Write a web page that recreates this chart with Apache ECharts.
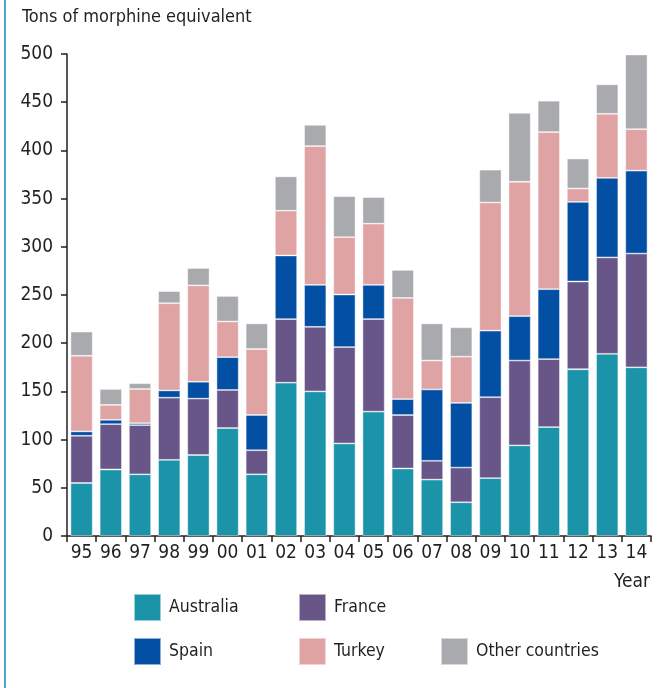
<!DOCTYPE html>
<html>
<head>
<meta charset="utf-8">
<script src="https://cdn.jsdelivr.net/npm/echarts@6/dist/echarts.min.js"></script>
<style>
  html, body { margin: 0; padding: 0; background: #fff; }
  #chart { width: 664px; height: 688px; }
</style>
</head>
<body>
<div id="chart"></div>
<script>
  // years on the x axis
  let years = ['95','96','97','98','99','00','01','02','03','04','05','06','07','08','09','10','11','12','13','14']
  // tons of morphine equivalent, per country (stacked)
  let australia = [55, 69, 64, 79, 84, 112, 64, 159, 150, 96, 129, 70, 58.5, 35, 60, 94, 113, 173, 189, 175]
  let france    = [49, 47, 51, 64.5, 58.5, 39.5, 25, 66, 67, 100, 96, 55.5, 19.5, 36, 84, 88, 70.5, 91, 100, 118]
  let spain     = [4.5, 4.5, 2, 7.5, 17.5, 34, 36.5, 66, 43.5, 54.5, 35.5, 16.5, 74, 67, 69, 46, 72.5, 82.5, 82.5, 86]
  let turkey    = [78.5, 15.5, 35.5, 90.5, 100, 37, 68.5, 46.5, 144, 59.5, 63.5, 105, 30, 48, 133, 139.5, 163, 14, 66.5, 43]
  let others    = [25, 16.5, 6, 12.5, 18, 26.5, 26.5, 35.5, 22, 42.5, 27.5, 29, 38.5, 30.5, 34, 71.5, 32.5, 31, 30.5, 77.5]
  let yTicks = [0, 50, 100, 150, 200, 250, 300, 350, 400, 450, 500]

  let names = ['Australia', 'France', 'Spain', 'Turkey', 'Other countries']
  let values = [australia, france, spain, turkey, others]
  let colors = ['#1b93a9', '#695689', '#034fa3', '#e0a3a4', '#a9aaae']

  let font = '"Liberation Sans Narrow", "DejaVu Sans Condensed", sans-serif'
  let ink = '#231f20'

  // where each legend entry sits
  let legendPos = [
    {left: 133, top: 593},
    {left: 298, top: 593},
    {left: 133, top: 637},
    {left: 298, top: 637},
    {left: 440, top: 637}
  ]

  let series = []
  let legends = []
  for (let i = 0; i < names.length; i++) {
    series.push({
      name: names[i],
      type: 'bar',
      stack: 'total',
      barCategoryGap: '24%',
      data: values[i],
      itemStyle: {color: colors[i], borderColor: 'rgba(255,255,255,0.55)', borderWidth: 0.8}
    })
    legends.push({
      data: [names[i]],
      left: legendPos[i].left,
      top: legendPos[i].top,
      padding: 0,
      itemWidth: 27,
      itemHeight: 27,
      icon: 'rect',
      selectedMode: false,
      textStyle: {fontFamily: font, fontSize: 17.5, color: ink, padding: [0, 0, 0, 3]}
    })
  }

  let myChart = echarts.init(document.getElementById('chart'))
  let option = {
    animation: false,
    backgroundColor: '#fff',
    grid: {left: 67, right: 13, top: 54, bottom: 152},
    legend: legends,
    xAxis: {
      type: 'category',
      data: years,
      axisLine: {lineStyle: {color: ink, width: 1.5}},
      axisTick: {show: true, alignWithLabel: false, length: 6, lineStyle: {color: ink, width: 1.5}},
      axisLabel: {fontFamily: font, fontSize: 19, color: ink, margin: 8}
    },
    yAxis: {
      type: 'value',
      min: yTicks[0],
      max: yTicks[yTicks.length - 1],
      interval: 50,
      splitLine: {show: false},
      axisLine: {show: true, lineStyle: {color: ink, width: 1.5}},
      axisTick: {show: true, length: 6, lineStyle: {color: ink, width: 1.5}},
      axisLabel: {fontFamily: font, fontSize: 19, color: ink, margin: 14}
    },
    graphic: [
      {type: 'rect', left: 4, top: 0, shape: {width: 2, height: 688}, style: {fill: '#4ba9c8'}},
      {type: 'text', left: 22, top: 8, style: {text: 'Tons of morphine equivalent', font: '18px ' + font, fill: ink}},
      {type: 'text', right: 14, top: 573, style: {text: 'Year', font: '19px ' + font, fill: ink}}
    ],
    series: series
  }
  myChart.setOption(option)
</script>
</body>
</html>
